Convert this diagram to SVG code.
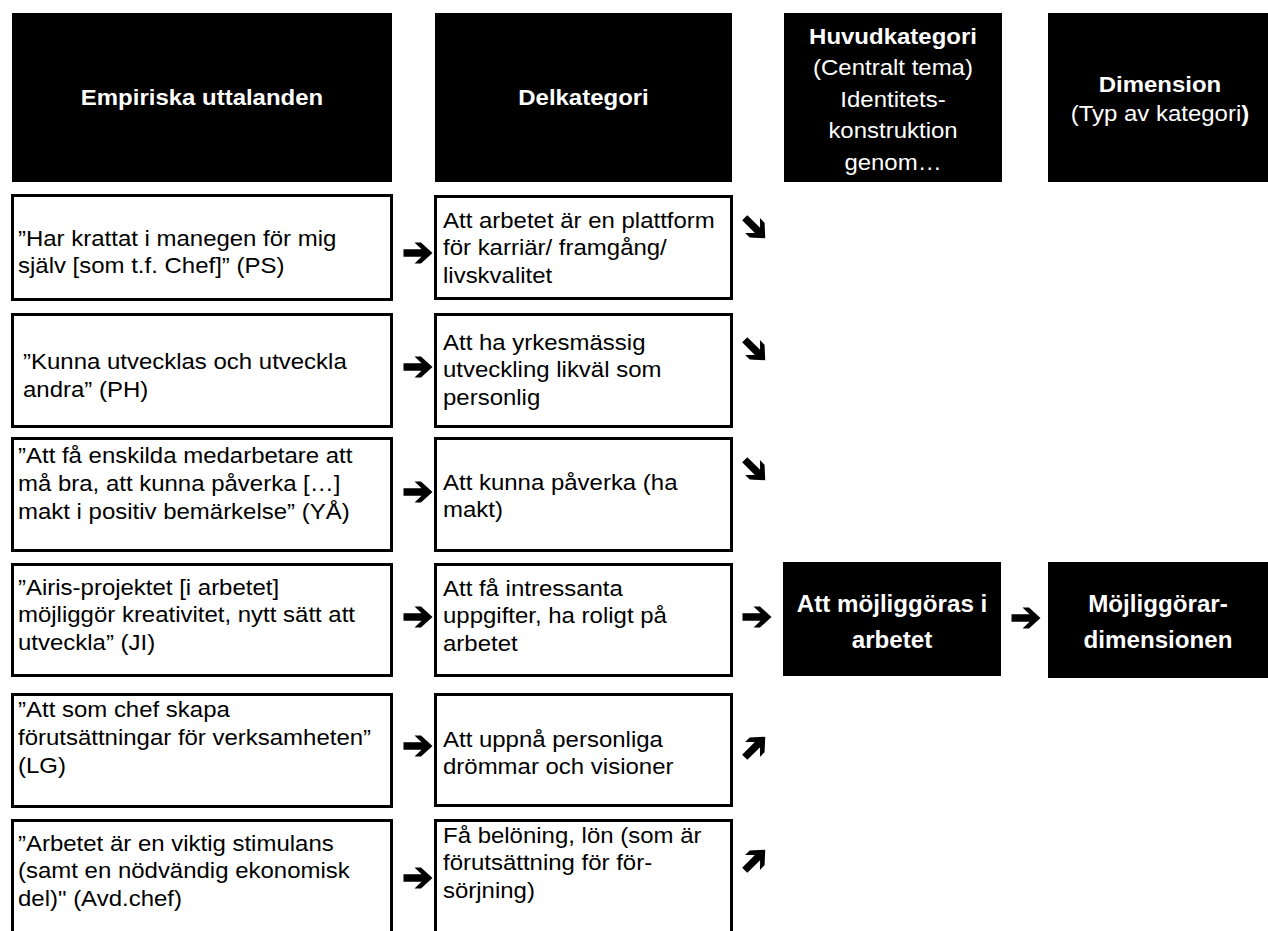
<svg xmlns="http://www.w3.org/2000/svg" width="1268" height="931" viewBox="0 0 1268 931">
<style>
text{font-family:"Liberation Sans",Arial,Helvetica,sans-serif;font-size:22px;fill:#000}
.w{fill:#fff}
.b{font-weight:bold}
.c{text-anchor:middle}
.lg{font-size:23px}
.hd{fill:#000}
.bx{fill:#fff;stroke:#000;stroke-width:3}
.ar{fill:#000}
</style>
<defs>
<path id="arr" d="M-14.5,-3.7 L3.5,-3.7 L-3.5,-10.5 L3,-10.5 L14.5,0 L3,10.5 L-3.5,10.5 L3.5,3.7 L-14.5,3.7 Z"/>
</defs>
<rect width="1268" height="931" fill="#fff"/>

<g id="header-empiriska">
<rect class="hd" x="12" y="13" width="380" height="169"/>
<text class="w b c" transform="translate(202,105) scale(1.09,1)">Empiriska uttalanden</text>
</g>
<g id="header-delkategori">
<rect class="hd" x="435" y="13" width="297" height="169"/>
<text class="w b c" transform="translate(583.5,105) scale(1.09,1)">Delkategori</text>
</g>
<g id="header-huvudkategori">
<rect class="hd" x="784" y="13" width="218" height="169"/>
<text class="w c" transform="translate(893,44) scale(1.09,1)"><tspan class="b" x="0" y="0">Huvudkategori</tspan><tspan x="0" y="31.5">(Centralt tema)</tspan><tspan x="0" y="63">Identitets-</tspan><tspan x="0" y="94.5">konstruktion</tspan><tspan x="0" y="126">genom…</tspan></text>
</g>
<g id="header-dimension">
<rect class="hd" x="1048" y="13" width="220" height="169"/>
<text class="w c" transform="translate(1160,92) scale(1.09,1)"><tspan class="b" x="0" y="0">Dimension</tspan><tspan x="0" y="29">(Typ av kategori<tspan class="b">)</tspan></tspan></text>
</g>

<g id="e1">
<rect class="bx" x="12.5" y="195.5" width="379" height="104"/>
<text transform="translate(18,246) scale(1.09,1)"><tspan x="0" y="0">”Har krattat i manegen för mig</tspan><tspan x="0" y="27">själv [som t.f. Chef]” (PS)</tspan></text>
</g>
<g id="e2">
<rect class="bx" x="12.5" y="314.5" width="379" height="112"/>
<text transform="translate(23,369) scale(1.09,1)"><tspan x="0" y="0">”Kunna utvecklas och utveckla</tspan><tspan x="0" y="28">andra” (PH)</tspan></text>
</g>
<g id="e3">
<rect class="bx" x="12.5" y="438.5" width="379" height="112"/>
<text transform="translate(18,463) scale(1.09,1)"><tspan x="0" y="0">”Att få enskilda medarbetare att</tspan><tspan x="0" y="28">må bra, att kunna påverka […]</tspan><tspan x="0" y="56">makt i positiv bemärkelse” (YÅ)</tspan></text>
</g>
<g id="e4">
<rect class="bx" x="12.5" y="564.5" width="379" height="111"/>
<text transform="translate(18,595) scale(1.09,1)"><tspan x="0" y="0">”Airis-projektet [i arbetet]</tspan><tspan x="0" y="27.5">möjliggör kreativitet, nytt sätt att</tspan><tspan x="0" y="55">utveckla” (JI)</tspan></text>
</g>
<g id="e5">
<rect class="bx" x="12.5" y="694.5" width="379" height="112"/>
<text transform="translate(18,717) scale(1.09,1)"><tspan x="0" y="0">”Att som chef skapa</tspan><tspan x="0" y="28">förutsättningar för verksamheten”</tspan><tspan x="0" y="56">(LG)</tspan></text>
</g>
<g id="e6">
<rect class="bx" x="12.5" y="820.5" width="379" height="130"/>
<text transform="translate(18,851) scale(1.09,1)"><tspan x="0" y="0">”Arbetet är en viktig stimulans</tspan><tspan x="0" y="27.5">(samt en nödvändig ekonomisk</tspan><tspan x="0" y="55">del)" (Avd.chef)</tspan></text>
</g>

<g id="d1">
<rect class="bx" x="435.5" y="196.5" width="296" height="102"/>
<text transform="translate(443,228) scale(1.09,1)"><tspan x="0" y="0">Att arbetet är en plattform</tspan><tspan x="0" y="27.5">för karriär/ framgång/</tspan><tspan x="0" y="55">livskvalitet</tspan></text>
</g>
<g id="d2">
<rect class="bx" x="435.5" y="314.5" width="296" height="112"/>
<text transform="translate(443,350) scale(1.09,1)"><tspan x="0" y="0">Att ha yrkesmässig</tspan><tspan x="0" y="27.5">utveckling likväl som</tspan><tspan x="0" y="55">personlig</tspan></text>
</g>
<g id="d3">
<rect class="bx" x="435.5" y="438.5" width="296" height="112"/>
<text transform="translate(443,490) scale(1.09,1)"><tspan x="0" y="0">Att kunna påverka (ha</tspan><tspan x="0" y="27.5">makt)</tspan></text>
</g>
<g id="d4">
<rect class="bx" x="435.5" y="564.5" width="296" height="111"/>
<text transform="translate(443,596) scale(1.09,1)"><tspan x="0" y="0">Att få intressanta</tspan><tspan x="0" y="27.5">uppgifter, ha roligt på</tspan><tspan x="0" y="55">arbetet</tspan></text>
</g>
<g id="d5">
<rect class="bx" x="435.5" y="694.5" width="296" height="111"/>
<text transform="translate(443,747) scale(1.09,1)"><tspan x="0" y="0">Att uppnå personliga</tspan><tspan x="0" y="27.5">drömmar och visioner</tspan></text>
</g>
<g id="d6">
<rect class="bx" x="435.5" y="820.5" width="296" height="130"/>
<text transform="translate(443,843) scale(1.09,1)"><tspan x="0" y="0">Få belöning, lön (som är</tspan><tspan x="0" y="27.5">förutsättning för för-</tspan><tspan x="0" y="55">sörjning)</tspan></text>
</g>

<g id="huvudkategori">
<rect class="hd" x="783" y="562" width="218" height="114"/>
<text class="w b c lg" transform="translate(892,612) scale(1.05,1)"><tspan x="0" y="0">Att möjliggöras i</tspan><tspan x="0" y="36">arbetet</tspan></text>
</g>
<g id="dimension">
<rect class="hd" x="1048" y="562" width="220" height="116"/>
<text class="w b c lg" transform="translate(1158,612) scale(1.05,1)"><tspan x="0" y="0">Möjliggörar-</tspan><tspan x="0" y="36">dimensionen</tspan></text>
</g>

<g id="connectors" class="ar">
<use href="#arr" transform="translate(418,253)"/>
<use href="#arr" transform="translate(418,367)"/>
<use href="#arr" transform="translate(418,492)"/>
<use href="#arr" transform="translate(418,617)"/>
<use href="#arr" transform="translate(418,746)"/>
<use href="#arr" transform="translate(418,878)"/>
<use href="#arr" transform="translate(755,228) rotate(45) scale(1)"/>
<use href="#arr" transform="translate(755,350) rotate(45) scale(1)"/>
<use href="#arr" transform="translate(755,470) rotate(45) scale(1)"/>
<use href="#arr" transform="translate(757,617)"/>
<use href="#arr" transform="translate(755,747) rotate(-45) scale(1)"/>
<use href="#arr" transform="translate(755,860) rotate(-45) scale(1)"/>
<use href="#arr" transform="translate(1026,618)"/>
</g>
</svg>
